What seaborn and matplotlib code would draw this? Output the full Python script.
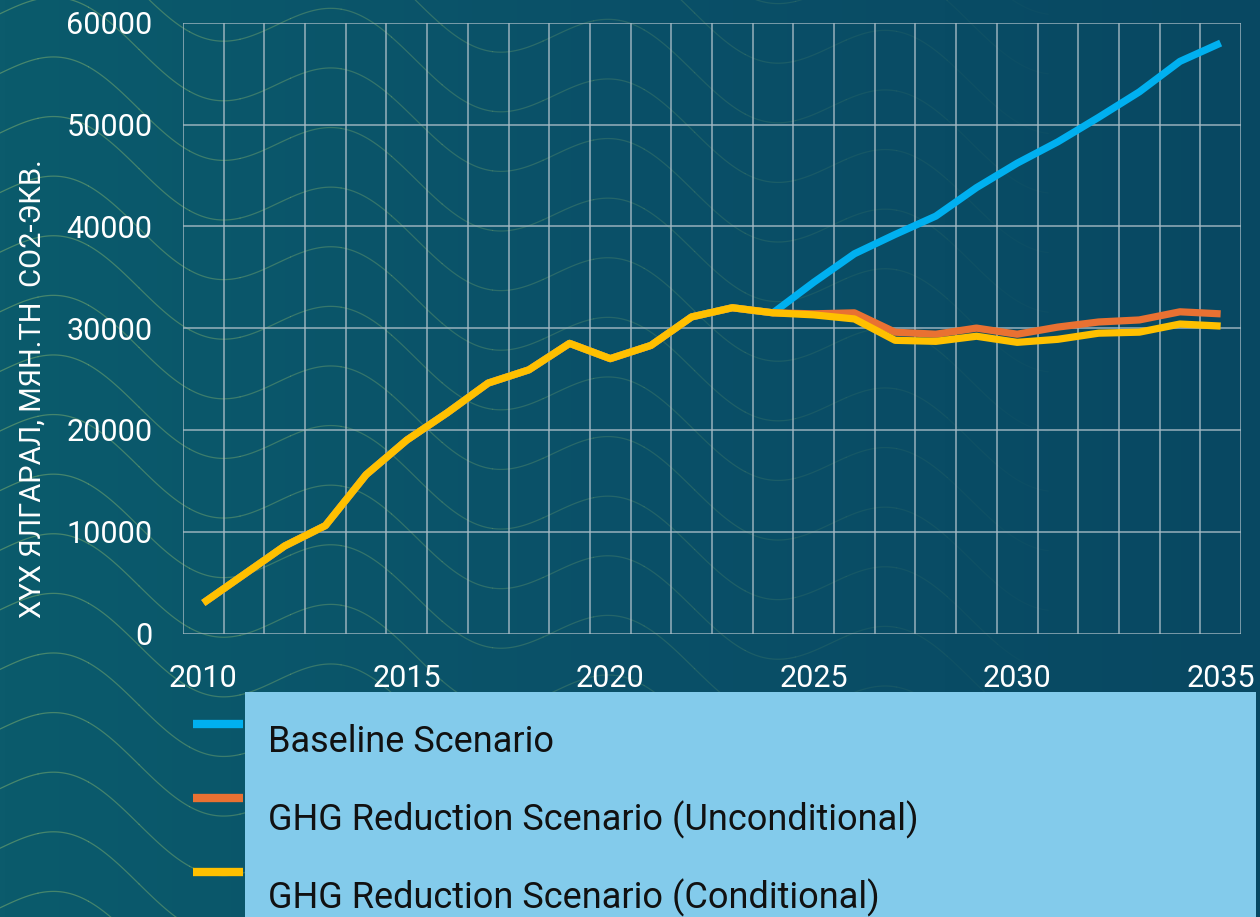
import numpy as np
import pandas as pd
import seaborn as sns
import matplotlib.pyplot as plt
from matplotlib.lines import Line2D
from matplotlib.patches import Rectangle
from matplotlib.colors import LinearSegmentedColormap

years = list(range(2010, 2036))

# shared history 2010-2024, then three projections 2025-2035
history = [3000, 5800, 8600, 10600, 15600, 19000, 21700, 24600, 25900,
           28500, 27000, 28300, 31100, 32000, 31500]
baseline = [34500, 37300, 39200, 41000, 43800, 46200, 48300, 50700, 53200, 56200, 58000]
unconditional = [31400, 31500, 29600, 29400, 30000, 29400, 30100, 30600, 30800, 31600, 31400]
conditional = [31300, 30900, 28800, 28700, 29200, 28600, 28900, 29500, 29600, 30400, 30200]

series_names = ['Baseline Scenario',
                'GHG Reduction Scenario (Unconditional)',
                'GHG Reduction Scenario (Conditional)']
series_colors = ['#00B0F0', '#E97132', '#FFC000']

ylabel = 'ХҮХ ЯЛГАРАЛ, МЯН.ТН  CO2-ЭКВ.'

frames = []
for name, proj in zip(series_names, [baseline, unconditional, conditional]):
    frames.append(pd.DataFrame({'year': years, 'value': history + proj, 'scenario': name}))
df = pd.concat(frames, ignore_index=True)

sns.set_theme(style='white')
plt.rcParams['font.family'] = ['Roboto', 'DejaVu Sans']

fig = plt.figure(figsize=(12.6, 9.17), dpi=100)

# background: teal gradient with faint wavy contour lines
bg = fig.add_axes([0, 0, 1, 1], zorder=-10)
grad = np.linspace(0, 1, 256)[None, :]
cmap = LinearSegmentedColormap.from_list('bg', ['#0B5B6C', '#0A5068', '#084862'])
bg.imshow(grad, aspect='auto', cmap=cmap, extent=[0, 1, 0, 1])
xx = np.linspace(-0.05, 0.85, 450)
for k in range(-6, 22):
    yy = 1.05 - k * 0.065 + 0.035 * np.sin(xx * 2 * np.pi / 0.22) - 0.35 * xx
    fade = np.clip(1 - xx / 0.85, 0, 1)
    for i in range(0, len(xx) - 20, 20):
        bg.plot(xx[i:i + 21], yy[i:i + 21], color='#93BE6E',
                alpha=0.45 * fade[i], lw=0.9)
bg.set_xlim(0, 1)
bg.set_ylim(0, 1)
bg.axis('off')

ax = fig.add_axes([183 / 1260, 1 - 633.5 / 917, (1241 - 183) / 1260, (633.5 - 22.7) / 917])
ax.set_facecolor('none')

sns.lineplot(data=df, x='year', y='value', hue='scenario', hue_order=series_names,
             palette=series_colors, lw=5.2, ax=ax, legend=False,
             solid_capstyle='butt', zorder=5)

ax.set_xlim(2009.5, 2035.5)
ax.set_ylim(0, 60000)
ax.set_xticks([2010, 2015, 2020, 2025, 2030, 2035])
ax.set_yticks(range(0, 60001, 10000))
ax.set_xticks(np.arange(2009.5, 2036, 1), minor=True)
ax.tick_params(axis='both', which='both', length=0, labelsize=22, labelcolor='white')
ax.tick_params(axis='x', pad=22)
ax.tick_params(axis='y', pad=22)
ax.grid(False)
ax.grid(True, which='minor', axis='x', color='#A8BCC6', alpha=0.7, lw=1.4)
ax.grid(True, which='major', axis='y', color='#A8BCC6', alpha=0.7, lw=1.4)
for s in ax.spines.values():
    s.set_visible(False)
ax.set_xlabel('')
ax.set_ylabel('')

fig.text(33 / 1260, 1 - 389 / 917, ylabel, rotation=90, ha='center', va='center',
         color='white', fontsize=21)

# legend: light blue panel with handles sitting just outside on the left
fig.patches.append(Rectangle((245 / 1260, 0), (1256 - 245) / 1260, 1 - 692 / 917,
                             transform=fig.transFigure, facecolor='#83CBEB',
                             edgecolor='none', zorder=1))
handle_y = [724, 798, 872]
text_y = [742, 820, 898]
for name, color, hy, ty in zip(series_names, series_colors, handle_y, text_y):
    fig.lines.append(Line2D([193 / 1260, 243 / 1260], [1 - hy / 917, 1 - hy / 917],
                            transform=fig.transFigure, color=color, lw=6,
                            solid_capstyle='butt'))
    fig.text(268 / 1260, 1 - ty / 917, name, ha='left', va='center',
             color='#111111', fontsize=26, zorder=2)

fig.savefig('out.png', dpi=100)
